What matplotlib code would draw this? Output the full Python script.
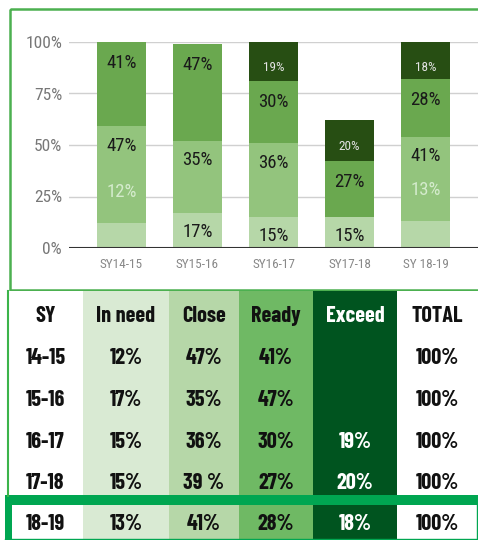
import matplotlib
matplotlib.use('Agg')
import matplotlib.pyplot as plt
from matplotlib import font_manager
from matplotlib.patches import Rectangle

# ---------------- data ----------------
years = ['SY14-15', 'SY15-16', 'SY16-17', 'SY17-18', 'SY 18-19']
in_need = [12, 17, 15, 15, 13]
close_bar = [47, 35, 36, 0, 41]      # chart omits the Close segment for SY17-18
ready = [41, 47, 30, 27, 28]
exceed = [0, 0, 19, 20, 18]
yticks = [0, 25, 50, 75, 100]

headers = ['SY', 'In need', 'Close', 'Ready', 'Exceed', 'TOTAL']
table_sy = ['14-15', '15-16', '16-17', '17-18', '18-19']
table_in_need = ['12%', '17%', '15%', '15%', '13%']
table_close = ['47%', '35%', '36%', '39 %', '41%']
table_ready = ['41%', '47%', '30%', '27%', '28%']
table_exceed = ['', '', '19%', '20%', '18%']
table_total = ['100%', '100%', '100%', '100%', '100%']

# ---------------- fonts ----------------
avail = {f.name for f in font_manager.fontManager.ttflist}


def pick(*names):
    for n in names:
        if n in avail:
            return n
    return 'DejaVu Sans'


chart_font = pick('Roboto Condensed', 'Barlow Semi Condensed', 'Encode Sans Condensed', 'Roboto')
table_font = pick('Barlow Condensed', 'PT Sans Narrow', 'Roboto')
plt.rcParams['font.family'] = [chart_font, 'DejaVu Sans']

W, H = 478, 540
fig = plt.figure(figsize=(W / 100, H / 100), dpi=100)
fig.patch.set_facecolor('white')

# ---------------- chart ----------------
c_need, c_close, c_ready, c_exc = '#b6d7a8', '#93c47d', '#6aa84f', '#274e13'
ax = fig.add_axes([69 / W, (H - 248) / H, (W - 69) / W, 206 / H])
x = list(range(len(years)))
bw = 0.64
b1 = in_need
b2 = [a + b for a, b in zip(b1, close_bar)]
b3 = [a + b for a, b in zip(b2, ready)]
ax.bar(x, in_need, bw, color=c_need, lw=0, zorder=3)
ax.bar(x, close_bar, bw, bottom=b1, color=c_close, lw=0, zorder=3)
ax.bar(x, ready, bw, bottom=b2, color=c_ready, lw=0, zorder=3)
ax.bar(x, exceed, bw, bottom=b3, color=c_exc, lw=0, zorder=3)

lab = dict(ha='center', va='center', fontsize=13.5, zorder=5)
for i in x:
    if in_need[i] < 14:
        ax.text(i, b1[i] + 15, f'{in_need[i]}%', color='#d4ebcc', **lab)
    else:
        ax.text(i, b1[i] - 9, f'{in_need[i]}%', color='#1a1a1a', **lab)
    if close_bar[i]:
        ax.text(i, b2[i] - 9.5, f'{close_bar[i]}%', color='#1a1a1a', **lab)
    if ready[i]:
        ax.text(i, b3[i] - 10, f'{ready[i]}%', color='#1a1a1a', **lab)
    if exceed[i]:
        ax.text(i, b3[i] + exceed[i] - 12.5, f'{exceed[i]}%', ha='center', va='center',
                fontsize=9.5, color='#e4e4e4', zorder=5)

ax.set_xlim(-0.69, 4.69)
ax.set_ylim(0, 100)
ax.set_yticks(yticks)
ax.set_yticklabels([f'{v}%' for v in yticks], fontsize=12.5, color='#777777')
ax.set_xticks(x)
ax.set_xticklabels(years, fontsize=9.5, color='#888888')
ax.tick_params(axis='y', length=0, pad=5)
ax.tick_params(axis='x', length=0, pad=7)
for s in ax.spines.values():
    s.set_visible(False)
ax.grid(axis='y', color='#d0d0d0', lw=1, zorder=0)
ax.axhline(0, color='#333333', lw=1.5, zorder=4)
ax.set_facecolor('none')

# ---------------- table & frames ----------------
ax2 = fig.add_axes([0, 0, 1, 1], zorder=-1)
ax2.set_xlim(0, W)
ax2.set_ylim(H, 0)
ax2.axis('off')

ax2.add_patch(Rectangle((10, 9), 475, 281, fill=False, ec='#4cb050', lw=1.8))

edges = [8, 83, 169, 239, 313, 397, 478]
col_colors = ['white', '#d9ead3', '#b6d7a8', '#6fb964', '#00541f', 'white']
txt_colors = ['#111111', '#111111', '#111111', '#111111', 'white', '#111111']
for j in range(6):
    ax2.add_patch(Rectangle((edges[j], 291), edges[j + 1] - edges[j], H - 291,
                            color=col_colors[j], lw=0))

columns = [table_sy, table_in_need, table_close, table_ready, table_exceed, table_total]
row_y = [358, 400, 442, 483, 524]
tf = dict(ha='center', va='center', fontsize=16, fontweight='bold',
          family=[table_font, 'DejaVu Sans'])
for j in range(6):
    cx = (edges[j] + edges[j + 1]) / 2
    ax2.text(cx, 316, headers[j], color=txt_colors[j], **tf)
    for r, val in enumerate(columns[j]):
        ax2.text(cx, row_y[r], val, color=txt_colors[j], **tf)

green = '#00a651'
ax2.plot([8, 8], [291, 496], color='#3cb44a', lw=1.5)
ax2.add_patch(Rectangle((5, 495), 473, 10, color=green, lw=0))
ax2.add_patch(Rectangle((5, 495), 7, 45, color=green, lw=0))
ax2.plot([477, 477], [505, 540], color=green, lw=1)
ax2.plot([5, 478], [539, 539], color=green, lw=1)

fig.savefig('out.png', dpi=100, facecolor='white')
